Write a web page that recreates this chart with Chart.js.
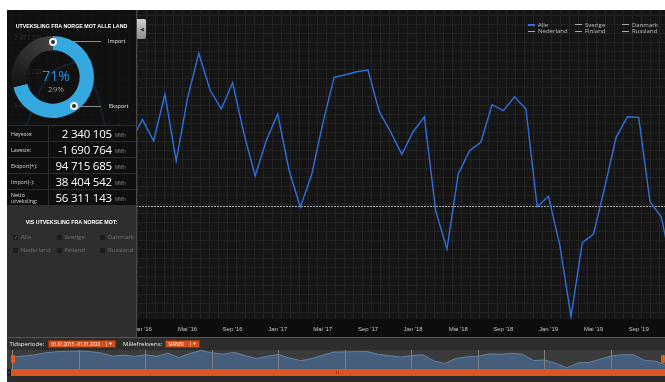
<!DOCTYPE html>
<html lang="no">
<head>
<meta charset="utf-8">
<title>Utveksling fra Norge</title>
<script src="https://cdn.jsdelivr.net/npm/chart.js@4.4.1/dist/chart.umd.min.js"></script>
<style>
  html, body { margin: 0; padding: 0; background: #fff; }
  body { position: relative; width: 665px; height: 382px; overflow: hidden;
         font-family: "Open Sans", "Liberation Sans", sans-serif; color: #ddd; }
  canvas { position: absolute; display: block; }
  #mainChart { left: 7px; top: 10px; }
  #navChart { left: 7px; top: 350px; background: #3b3b3b; }

  .legend-item { position: absolute; height: 7px; line-height: 7px; font-size: 6px; color: #bdbdbd; white-space: nowrap; }
  .legend-item i { display: inline-block; width: 7px; height: 1px; background: #a8a8a8; vertical-align: middle; margin-right: 3px; }

  #tab { position: absolute; left: 137px; top: 19px; width: 9px; height: 20px; border-radius: 0 2px 2px 0;
         background: linear-gradient(#d0d0d0, #8a8a8a); color: #333; font-size: 5px; line-height: 20px; text-align: center; }

  #panel { position: absolute; left: 7px; top: 10px; width: 129px; height: 328px; }
  #panelBorder { position: absolute; left: 136px; top: 10px; width: 1px; height: 328px; background: #4a4a4a; }
  .top { position: absolute; left: 0; top: 0; width: 129px; height: 115px; background: rgba(16,16,16,0.78); }
  .title { position: absolute; left: 0; width: 129px; text-align: center; font-family: "Liberation Sans", sans-serif;
           font-weight: bold; font-size: 5.3px; color: #fff; line-height: 7px; }
  #donutChart { left: 5px; top: 26px; }
  .marker { position: absolute; width: 4px; height: 4px; border: 2px solid #f2f2f2; border-radius: 50%; background: #2a2a2a; }
  .lead { position: absolute; height: 1px; background: #8a8a8a; }
  .tag { position: absolute; font-size: 5.5px; color: #e8e8e8; line-height: 7px; }
  .pct { position: absolute; width: 60px; text-align: center; }

  #stats { position: absolute; left: 0; top: 115px; width: 129px; height: 80px; background: #0f0f0f; }
  .row { position: absolute; left: 0; width: 129px; height: 16px; border-top: 1px solid #2c2c2c; box-sizing: border-box; }
  .row .lab { position: absolute; left: 0; top: 0; width: 42px; height: 100%; border-right: 1px solid #2c2c2c; box-sizing: border-box;
              padding-left: 4px; font-size: 5.3px; line-height: 6px; color: #d8d8d8; display: flex; align-items: center; }
  .row .val { position: absolute; right: 24px; top: 0; height: 100%; display: flex; align-items: center;
              font-size: 11.5px; color: #fff; letter-spacing: -0.2px; }
  .row .unit { position: absolute; left: 108px; top: 6px; font-size: 4.5px; color: #8a8a8a; line-height: 6px; }

  #filter { position: absolute; left: 0; top: 195px; width: 129px; height: 133px; background: #2e2e2e; }
  .box { position: absolute; width: 5px; height: 5px; background: #1c1c1c; color: #8a8a8a; font-size: 5px; line-height: 5px; text-align: center; }
  .cname { position: absolute; font-size: 6px; color: #747474; line-height: 7px; }

  #controls { position: absolute; left: 7px; top: 337px; width: 658px; height: 12px; background: #2d2d2d; border-top: 1px solid #555; }
  .ctl { position: absolute; top: 3px; font-size: 6px; line-height: 7px; color: #eee; }
  .drop { position: absolute; top: 2px; height: 8px; background: #d3501c; border: 1px solid #8c2f0b; box-sizing: border-box;
          font-size: 4.4px; line-height: 6px; color: #fff; padding-left: 3px; }
  .drop b { position: absolute; right: 0; top: 0; width: 8px; height: 6px; border-left: 1px solid rgba(255,255,255,0.35);
            font-weight: normal; text-align: center; font-size: 4px; }
  .handle { position: absolute; top: 355px; width: 4px; height: 8px; background: #e05a1f; border-radius: 1px; }
  #bar { position: absolute; left: 11px; top: 369px; width: 654px; height: 7px; background: #dc5520; }
  #barBtn { position: absolute; left: 7px; top: 369px; width: 4px; height: 7px; background: #1c1c1c; color: #bbb; font-size: 5px; line-height: 7px; text-align: center; }
  #grip { position: absolute; left: 336px; top: 371px; width: 4px; height: 3px;
          background: repeating-linear-gradient(90deg, #a63a12 0 1px, transparent 1px 2px); }
  #foot { position: absolute; left: 7px; top: 376px; width: 658px; height: 6px; background: #2b2b2b; }
</style>
</head>
<body>

<canvas id="mainChart" width="658" height="328"></canvas>

<div id="legend"></div>
<div id="tab">&#9664;</div>

<div id="panel">
  <div class="top">
    <div class="title" style="top:13px">UTVEKSLING FRA NORGE MOT ALLE LAND</div>
    <canvas id="donutChart" width="82" height="82"></canvas>
    <div class="lead" style="left:49px; top:31px; width:45px"></div>
    <div class="marker" style="left:41.5px; top:27.5px"></div>
    <div class="tag" style="left:101px; top:28px">Import</div>
    <div class="lead" style="left:71px; top:96px; width:23px"></div>
    <div class="marker" style="left:63px; top:92px"></div>
    <div class="tag" style="left:102px; top:93px">Eksport</div>
    <div class="pct" id="pctExport" style="left:19px; top:57px; font-size:14px; line-height:18px; color:#2a8fd8"></div>
    <div class="pct" id="pctImport" style="left:19px; top:74px; font-size:8px; line-height:10px; color:#9a9a9a"></div>
  </div>
  <div id="stats"></div>
  <div id="filter">
    <div class="title" style="top:14px">VIS UTVEKSLING FRA NORGE MOT:</div>
  </div>
</div>
<div id="panelBorder"></div>

<div id="controls">
  <div class="ctl" style="left:2.5px">Tidsperiode:</div>
  <div class="drop" style="left:40.5px; width:68px">01.01.2015 - 01.01.2020<b>&#9660;</b></div>
  <div class="ctl" style="left:116px">Målefrekvens:</div>
  <div class="drop" style="left:157.5px; width:35px">MÅNED<b>&#9660;</b></div>
</div>

<canvas id="navChart" width="658" height="19"></canvas>
<div class="handle" style="left:10.5px"></div>
<div class="handle" style="left:661px"></div>
<div id="barBtn">&#8249;</div>
<div id="bar"></div>
<div id="grip"></div>
<div id="foot"></div>

<script>
const monthNames = ['Jan', 'Feb', 'Mar', 'Apr', 'Mai', 'Jun', 'Jul', 'Aug', 'Sep', 'Okt', 'Nov', 'Des'];
const firstYear = 2015;

// netto utveksling per måned (MWh), eksport positiv
const netto2015 = [850000, 1050000, 1350000, 1800000, 2050000, 2150000, 2200000, 2100000, 1730000, 1000000, 1250000, 982000];
const netto2016 = [1329800, 997800, 1712400, 691700, 1651200, 2340105, 1778200, 1487500, 1889900, 1115600, 462200, 1013100];
const netto2017 = [1410900, 554000, -16800, 477500, 1268600, 1972600, 2012300, 2058300, 2084300, 1446100, 1140100, 794200];
const netto2018 = [1140100, 1369600, -68900, -655000, 488200, 849300, 977900, 1553300, 1461400, 1675700, 1487500, -7700];
const netto2019 = [151500, -593800, -1690764, -558600, -425400, 298400, 1054400, 1369600, 1360400, 68900, -160700, -1000000];

const shareLabels = ['Eksport', 'Import'];
const shareValues = [71, 29];

const exportTotal = 94715685;
const importTotal = 38404542;
const nettoTotal = 56311143;

const countries = ['Alle', 'Sverige', 'Danmark', 'Nederland', 'Finland', 'Russland'];
const selected = ['Alle'];

const netto = [].concat(netto2015, netto2016, netto2017, netto2018, netto2019);
const points = netto.map((v, i) => ({ x: i, y: v }));

function monthLabel(i) {
  const m = ((i % 12) + 12) % 12;
  const y = firstYear + Math.floor(i / 12);
  return monthNames[m] + " '" + String(y).slice(2);
}

function fmt(v) {
  const s = Math.abs(Math.round(v)).toString().replace(/\B(?=(\d{3})+(?!\d))/g, ' ');
  return (v < 0 ? '-' : '') + s;
}

// legend, top right
const legend = document.getElementById('legend');
countries.forEach((name, i) => {
  const el = document.createElement('div');
  el.className = 'legend-item';
  el.style.left = (528 + (i % 3) * 47) + 'px';
  el.style.top = (21.5 + Math.floor(i / 3) * 6.7) + 'px';
  el.innerHTML = '<i' + (selected.includes(name) ? ' style="background:#2f6fe0;height:1.5px"' : '') + '></i>' + name;
  legend.appendChild(el);
});

// stats table
const statRows = [
  ['Høyeste:', Math.max(...netto)],
  ['Laveste:', Math.min(...netto)],
  ['Eksport(+):', exportTotal],
  ['Import(-):', importTotal],
  ['Netto<br>utveksling:', nettoTotal]
];
const stats = document.getElementById('stats');
statRows.forEach(([label, value], i) => {
  const row = document.createElement('div');
  row.className = 'row';
  row.style.top = (i * 16) + 'px';
  row.innerHTML = '<div class="lab">' + label + '</div><div class="val">' + fmt(value) + '</div><div class="unit">MWh</div>';
  stats.appendChild(row);
});

// country checkboxes
const filter = document.getElementById('filter');
countries.forEach((name, i) => {
  const x = 6 + (i % 3) * 43.5;
  const y = 29 + Math.floor(i / 3) * 12.5;
  const box = document.createElement('div');
  box.className = 'box';
  box.style.left = x + 'px';
  box.style.top = (y + 1) + 'px';
  box.textContent = selected.includes(name) ? '✓' : '';
  const txt = document.createElement('div');
  txt.className = 'cname';
  txt.style.left = (x + 8) + 'px';
  txt.style.top = y + 'px';
  txt.textContent = name;
  filter.appendChild(box);
  filter.appendChild(txt);
});

document.getElementById('pctExport').textContent = shareValues[0] + '%';
document.getElementById('pctImport').textContent = shareValues[1] + '%';

// dark plot with a fine 9px grid, darker band under it for the month labels
const plotBackground = {
  id: 'plotBackground',
  beforeDraw(chart) {
    const { ctx, chartArea: a, height } = chart;
    ctx.save();
    ctx.fillStyle = '#0d0d0d';
    ctx.fillRect(a.left, a.bottom, a.right - a.left, height - a.bottom);
    ctx.fillStyle = '#151515';
    ctx.fillRect(a.left, a.top, a.right - a.left, a.bottom - a.top);
    ctx.strokeStyle = '#232323';
    ctx.lineWidth = 1;
    ctx.beginPath();
    for (let x = a.left + 4.5; x < a.right; x += 9) { ctx.moveTo(x, a.top); ctx.lineTo(x, a.bottom); }
    for (let y = a.top + 5.5; y < a.bottom; y += 9) { ctx.moveTo(a.left, y); ctx.lineTo(a.right, y); }
    ctx.stroke();
    ctx.restore();
  },
  // dotted line at zero exchange
  beforeDatasetsDraw(chart) {
    const { ctx, chartArea: a, scales } = chart;
    const y0 = Math.round(scales.y.getPixelForValue(0)) + 0.5;
    ctx.save();
    ctx.strokeStyle = '#a8a8a8';
    ctx.lineWidth = 1;
    ctx.setLineDash([2, 1]);
    ctx.beginPath();
    ctx.moveTo(a.left, y0);
    ctx.lineTo(a.right, y0);
    ctx.stroke();
    ctx.restore();
  }
};

new Chart(document.getElementById('mainChart'), {
  type: 'line',
  data: {
    datasets: [{
      label: 'Alle',
      data: points,
      borderColor: '#2f6fe0',
      borderWidth: 1.4,
      pointRadius: 0,
      tension: 0
    }]
  },
  options: {
    responsive: false,
    animation: false,
    events: [],
    layout: { padding: 0 },
    plugins: { legend: { display: false }, tooltip: { enabled: false } },
    scales: {
      x: {
        type: 'linear',
        min: 0,
        max: 58.33,
        grid: { display: false, drawTicks: false },
        border: { display: false },
        ticks: {
          stepSize: 4, includeBounds: false, padding: 7, autoSkip: false, maxRotation: 0,
          color: '#c4c4c4', font: { size: 6 },
          callback: v => monthLabel(v)
        },
        afterFit: s => { s.paddingLeft = 0; s.paddingRight = 0; s.height = 19; }
      },
      y: {
        min: -1726000,
        max: 3002500,
        grid: { display: false, drawTicks: false },
        border: { display: false },
        ticks: {
          stepSize: 500000, includeBounds: false, mirror: true, padding: 7, labelOffset: -6.5,
          color: '#9a9a9a', font: { size: 6.5 },
          callback: v => fmt(v)
        },
        afterFit: s => { s.width = 0; s.paddingTop = 0; s.paddingBottom = 0; }
      }
    }
  },
  plugins: [plotBackground]
});

// export / import share
new Chart(document.getElementById('donutChart'), {
  type: 'doughnut',
  data: {
    labels: shareLabels,
    datasets: [{
      data: shareValues,
      borderWidth: 0,
      backgroundColor: c => {
        if (c.dataIndex === 0) return '#35a8e0';
        const { ctx, chartArea } = c.chart;
        if (!chartArea) return '#333';
        const g = ctx.createConicGradient(-Math.PI / 2,
          (chartArea.left + chartArea.right) / 2, (chartArea.top + chartArea.bottom) / 2);
        g.addColorStop(0.70, '#121212');
        g.addColorStop(1, '#444');
        return g;
      }
    }]
  },
  options: {
    responsive: false,
    animation: false,
    events: [],
    cutout: '65%',
    plugins: { legend: { display: false }, tooltip: { enabled: false } }
  }
});

// overview strip for the whole period
new Chart(document.getElementById('navChart'), {
  type: 'line',
  data: {
    datasets: [{
      data: points,
      borderColor: '#6283a8',
      borderWidth: 1,
      backgroundColor: 'rgba(70,96,128,0.92)',
      fill: 'start',
      pointRadius: 0,
      tension: 0
    }]
  },
  options: {
    responsive: false,
    animation: false,
    events: [],
    layout: { padding: 0 },
    plugins: { legend: { display: false }, tooltip: { enabled: false } },
    scales: {
      x: {
        type: 'linear',
        min: -0.514,
        max: 58.87,
        grid: { color: '#808080', drawTicks: false, z: 1 },
        border: { display: false },
        ticks: {
          stepSize: 6, includeBounds: false, align: 'start', labelOffset: 2, padding: -8,
          autoSkip: false, maxRotation: 0, color: '#e0e0e0', font: { size: 6 },
          callback: v => monthLabel(v)
        },
        afterFit: s => { s.paddingLeft = 0; s.paddingRight = 0; s.height = 0; }
      },
      y: { display: false, min: -1950000, max: 2450000 }
    }
  }
});
</script>
</body>
</html>
